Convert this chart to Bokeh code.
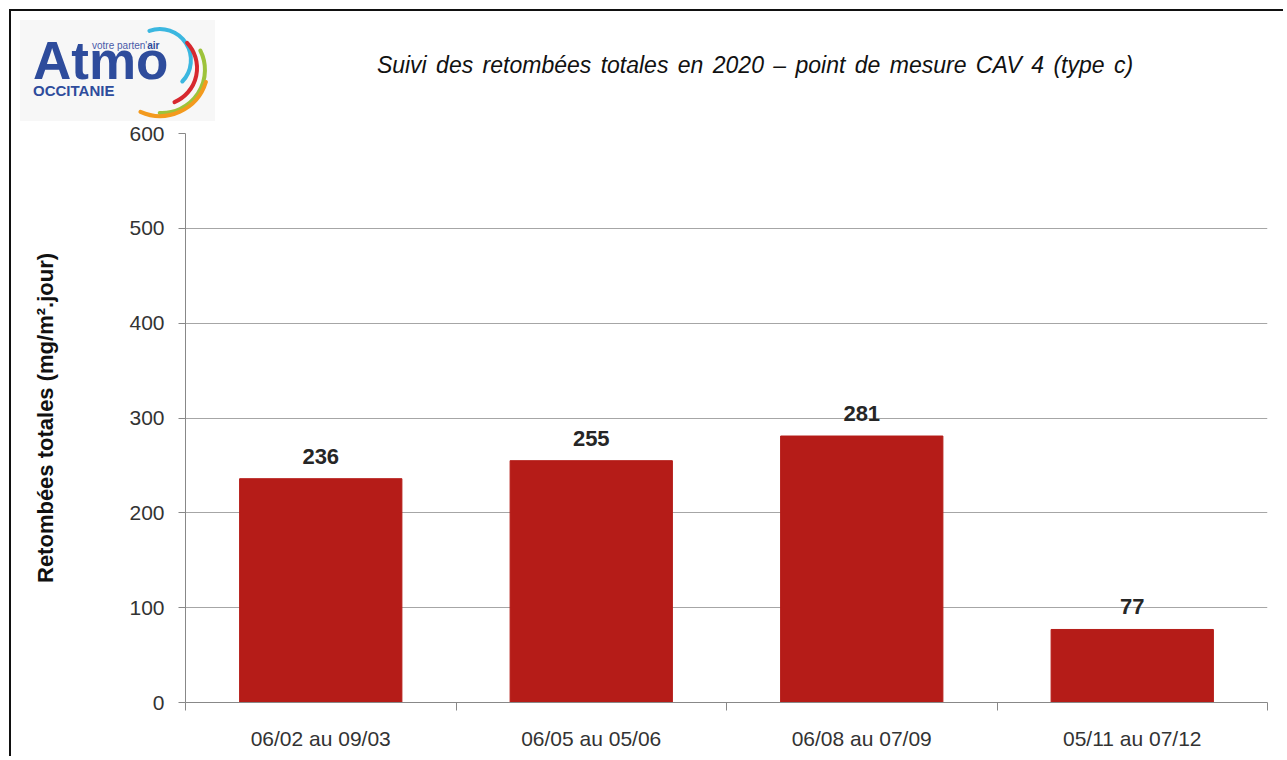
import numpy as np
from bokeh.plotting import figure
from bokeh.layouts import column
from bokeh.models import Range1d, FixedTicker, ColumnDataSource, LabelSet, Div
from bokeh.core.properties import value
from bokeh.embed import file_html
from bokeh.resources import INLINE

# ---- data ----
periods = ["06/02 au 09/03", "06/05 au 05/06", "06/08 au 07/09", "05/11 au 07/12"]
values = [236, 255, 281, 77]
y_ticks = [0, 100, 200, 300, 400, 500, 600]
title_text = "Suivi des retombées totales en 2020 \u2013 point de mesure CAV 4 (type c)"
y_label = "Retombées totales (mg/m².jour)"

BAR_COLOR = "#B51C18"
FONT = "Liberation Sans"
OX, OY = 11, 11            # page offset of the content (inside the border)
W = 1285 - OX              # content width
TOP_H = 112                # header (logo + title) height
MAIN_H = 758 - OY - TOP_H
FL, FR, FT, FB = 185, 1267, 135, 704   # frame edges on the page
BORDER = "2px solid #111111"
LOGO_BLUE = "#2E4C9C"

# ---------------- header: logo + title (decoration, inline svg) ----------------
# (color, centre x, centre y, radius, start angle, end angle)
arc_specs = [("#3BB7E0", 160, 60, 31, 110, -44), ("#D7282F", 160, 68, 37, 43, -67),
             ("#9DC33B", 162, 70, 43, 27, -93), ("#F39A1E", 160, 68, 48, -17, -114)]
arc_paths = []
for color, cx, cy, r, a0, a1 in arc_specs:
    x0, y0 = cx + r * np.cos(np.radians(a0)), cy - r * np.sin(np.radians(a0))
    x1, y1 = cx + r * np.cos(np.radians(a1)), cy - r * np.sin(np.radians(a1))
    large = 1 if abs(a0 - a1) > 180 else 0
    arc_paths.append(
        f'<path d="M {x0:.1f} {y0:.1f} A {r} {r} 0 {large} 1 {x1:.1f} {y1:.1f}" '
        f'stroke="{color}" stroke-width="4" fill="none" stroke-linecap="round"/>')

svg = f'''<svg xmlns="http://www.w3.org/2000/svg" width="{W}" height="{TOP_H}"
 viewBox="{OX} {OY} {W} {TOP_H}" style="display:block">
<rect x="20" y="20" width="195" height="102" fill="#f7f7f7"/>
<text x="33" y="79" font-family="{FONT}" font-weight="bold" font-size="53px"
 fill="{LOGO_BLUE}">Atmo</text>
<text x="92" y="49" font-family="{FONT}" font-size="10px" fill="#4a5aa8">votre parten'<tspan
 font-weight="bold" fill="{LOGO_BLUE}">air</tspan></text>
<text x="33" y="96" font-family="{FONT}" font-weight="bold" font-size="15px"
 fill="{LOGO_BLUE}">OCCITANIE</text>
{''.join(arc_paths)}
<text x="755" y="73" text-anchor="middle" font-family="{FONT}" font-style="italic"
 font-size="23px" word-spacing="3px" fill="#111111">{title_text}</text>
</svg>'''

header = Div(text=svg, width=W, height=TOP_H, margin=(9, 0, 0, 9),
             styles={"border-left": BORDER, "border-top": BORDER,
                     "padding": "0px", "overflow": "hidden"})

# ---------------- main chart ----------------
p = figure(width=W, height=MAIN_H, output_backend="svg", toolbar_location=None,
           x_range=Range1d(0.5, 4.5), y_range=Range1d(0, 600),
           min_border_left=FL - OX, min_border_right=(OX + W) - FR,
           min_border_top=FT - (OY + TOP_H), min_border_bottom=(OY + TOP_H + MAIN_H) - FB)
p.outline_line_color = None
p.background_fill_color = "white"
p.border_fill_color = "white"
p.styles = {"margin-left": "9px", "border-left": BORDER}

xs = list(range(1, len(periods) + 1))
src = ColumnDataSource(dict(x=xs, v=values, lab=[str(v) for v in values]))
p.vbar(x="x", top="v", bottom=0, width=0.6, source=src,
       fill_color=BAR_COLOR, line_color=BAR_COLOR)

labels = LabelSet(x="x", y="v", text="lab", source=src, text_align="center",
                  text_baseline="bottom", y_offset=15,
                  text_font=value(FONT), text_font_style="bold",
                  text_font_size="22px", text_color="#262626")
p.add_layout(labels)

# x axis
p.xaxis.ticker = FixedTicker(ticks=xs, minor_ticks=[x - 0.5 for x in xs] + [xs[-1] + 0.5])
p.xaxis.major_label_overrides = {x: lab for x, lab in zip(xs, periods)}
p.xaxis.major_tick_out = 0
p.xaxis.major_tick_in = 0
p.xaxis.minor_tick_out = 8
p.xaxis.minor_tick_in = 0
p.xaxis.minor_tick_line_color = "#888888"
p.xaxis.axis_line_color = "#888888"
p.xaxis.major_label_standoff = 16
p.xaxis.major_label_text_font = FONT
p.xaxis.major_label_text_font_size = "21px"
p.xaxis.major_label_text_color = "#333333"
p.xgrid.grid_line_color = None

# y axis
p.yaxis.ticker = FixedTicker(ticks=y_ticks)
p.yaxis.minor_tick_line_color = None
p.yaxis.major_tick_out = 7
p.yaxis.major_tick_in = 0
p.yaxis.major_tick_line_color = "#888888"
p.yaxis.axis_line_color = "#888888"
p.yaxis.major_label_standoff = 14
p.yaxis.major_label_text_font = FONT
p.yaxis.major_label_text_font_size = "21px"
p.yaxis.major_label_text_color = "#333333"
p.yaxis.axis_label = y_label
p.yaxis.axis_label_text_font = FONT
p.yaxis.axis_label_text_font_style = "bold"
p.yaxis.axis_label_text_font_size = "22px"
p.yaxis.axis_label_text_color = "#111111"
p.yaxis.axis_label_standoff = 68
p.ygrid.grid_line_color = "#a6a6a6"
p.ygrid.grid_line_width = 1

layout = column(header, p, spacing=0)
open("out.html", "w").write(file_html(layout, INLINE))
